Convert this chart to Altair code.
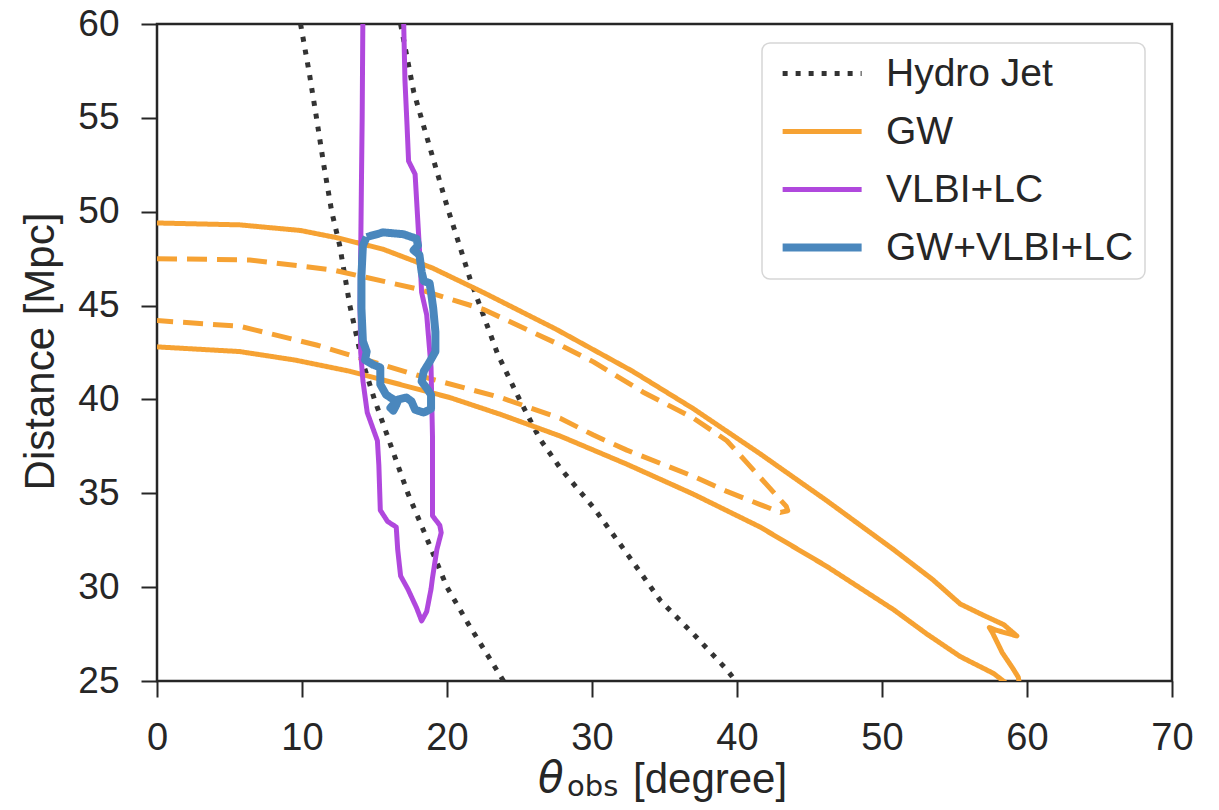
import altair as alt
import pandas as pd

# ---------------- data ----------------
series_names = ["Hydro Jet", "GW", "VLBI+LC", "GW+VLBI+LC"]
series_colors = ["#333333", "#F6A233", "#B048DD", "#4A87BD"]
series_dash = [[5, 8], [1, 0], [1, 0], [1, 0]]
series_width = [5, 5, 5, 8]

x_ticks = [0, 10, 20, 30, 40, 50, 60, 70]
y_ticks = [25, 30, 35, 40, 45, 50, 55, 60]
x_title_parts = ["θ", "obs", "[degree]"]
y_title = "Distance [Mpc]"

# Hydro Jet dotted curves
hydro_left_x = [9.9, 10.5, 11.0, 11.5, 12.05, 12.6, 13.3, 14.1, 15.0, 16.1, 17.3, 18.5, 20.0, 21.5, 23.9]
hydro_left_y = [60.0, 57.4, 55.0, 52.5, 50.0, 48.2, 45.0, 42.2, 40.0, 37.6, 35.0, 32.8, 30.0, 28.0, 25.0]
hydro_right_x = [16.8, 17.7, 18.6, 20.0, 21.6, 23.5, 25.0, 26.4, 27.8, 30.1, 32.4, 34.7, 37.0, 39.3, 39.9]
hydro_right_y = [60.0, 56.4, 54.0, 50.3, 46.4, 42.4, 40.0, 37.9, 36.35, 34.24, 31.8, 29.3, 27.5, 25.6, 25.0]

# GW outer (solid) contour: upper branch with the zig-zag tail, and lower branch
gw_outer_up_x = [0.0, 5.7, 9.9, 12.5, 15.6, 19.0, 22.5, 27.5, 32.8, 37.0, 41.6, 46.2, 50.8, 53.5,
                 55.4, 57.0, 58.4, 59.3,
                 57.9, 57.4, 57.6, 58.3, 59.0, 59.4, 59.5]
gw_outer_up_y = [49.4, 49.3, 49.0, 48.6, 48.0, 47.0, 45.7, 43.75, 41.5, 39.5, 37.1, 34.6, 32.0, 30.4,
                 29.1, 28.5, 28.0, 27.4,
                 27.7, 27.85, 27.6, 26.5, 25.7, 25.2, 24.7]
gw_outer_lo_x = [0.0, 5.7, 9.5, 13.3, 20.2, 23.7, 27.8, 32.4, 37.0, 41.6, 46.2, 50.8, 53.1, 55.4,
                 57.7, 58.7]
gw_outer_lo_y = [42.8, 42.55, 42.1, 41.5, 40.1, 39.2, 38.05, 36.55, 34.95, 33.2, 31.1, 28.8, 27.5, 26.3,
                 25.4, 24.8]

# GW inner (dashed) contour
gw_inner_x = [0.0, 6.4, 12.1, 17.9, 22.5, 27.8, 30.1, 33.5, 37.0, 39.3, 40.6, 42.0, 43.4, 43.5,
              43.0, 41.6, 39.3, 37.0, 34.7, 32.4, 30.1, 27.8, 23.7, 17.9, 11.0, 5.7, 0.0]
gw_inner_y = [47.5, 47.43, 46.9, 45.9, 44.8, 42.9, 42.0, 40.4, 39.0, 37.8, 36.7, 35.5, 34.3, 34.07,
              33.98, 34.4, 35.1, 35.9, 36.6, 37.3, 38.1, 39.0, 40.1, 41.3, 42.9, 43.9, 44.2]

# VLBI+LC contour (right side downwards, then left side upwards)
vlbi_x = [17.0, 17.1, 17.25, 17.35, 17.8, 17.95, 18.1, 18.25, 18.6, 18.9, 19.0, 19.0, 19.5, 19.6,
          19.3, 19.0, 18.9, 18.6, 18.25,
          17.9, 17.3, 16.8, 16.6, 16.5, 15.9, 15.4, 15.3, 15.2, 14.5, 14.2, 14.05, 14.0, 14.05,
          14.1, 14.15, 14.2]
vlbi_y = [60.5, 57.0, 54.5, 52.7, 52.0, 50.0, 48.0, 45.7, 44.5, 41.7, 38.0, 33.8, 33.3, 32.9,
          32.0, 30.5, 29.9, 28.7, 28.2,
          28.9, 29.9, 30.6, 32.0, 33.2, 33.5, 34.1, 36.5, 37.8, 39.3, 41.0, 42.5, 45.0, 48.0,
          51.6, 55.0, 60.5]

# GW+VLBI+LC contour (closed)
comb_x = [14.46, 15.6, 17.0, 17.9, 18.0, 17.7, 18.1, 18.25, 18.4, 18.8, 18.9, 19.05, 19.2, 19.2,
          18.8, 18.4, 18.25, 18.6, 18.9, 18.9, 18.4, 17.8, 17.55, 17.2, 16.65, 16.5, 16.3, 16.1,
          16.5, 15.8, 15.4, 15.4, 14.9, 14.35, 14.46, 14.2, 14.1, 14.1, 14.2, 14.46]
comb_y = [48.65, 48.9, 48.8, 48.56, 48.2, 47.95, 47.7, 46.8, 46.3, 46.2, 45.7, 44.85, 43.6, 42.55,
          42.0, 41.5, 40.96, 40.6, 40.25, 39.5, 39.3, 39.45, 39.9, 40.1, 40.0, 39.7, 39.4, 39.55,
          39.9, 40.25, 40.8, 41.7, 41.85, 42.1, 42.55, 43.1, 44.85, 46.6, 48.2, 48.65]

# ---------------- table ----------------
rows = []


def add(series, part, xs, ys):
    for i, (xv, yv) in enumerate(zip(xs, ys)):
        rows.append({"series": series, "part": part, "order": i, "x": xv, "y": yv})


add("Hydro Jet", "hl", hydro_left_x, hydro_left_y)
add("Hydro Jet", "hr", hydro_right_x, hydro_right_y)
add("GW", "gu", gw_outer_up_x, gw_outer_up_y)
add("GW", "gl", gw_outer_lo_x, gw_outer_lo_y)
add("GW", "gi", gw_inner_x, gw_inner_y)
add("VLBI+LC", "v", vlbi_x, vlbi_y)
add("GW+VLBI+LC", "c", comb_x, comb_y)
df = pd.DataFrame(rows)

INK = "#262626"
FONT = "Liberation Sans"

x_enc = alt.X(
    "x:Q",
    scale=alt.Scale(domain=[0, 70], nice=False, zero=False),
    axis=alt.Axis(values=x_ticks, title=None, labelPadding=22, labelFlush=False),
)
y_enc = alt.Y(
    "y:Q",
    scale=alt.Scale(domain=[25, 60], nice=False, zero=False),
    axis=alt.Axis(
        values=y_ticks, title=y_title, labelPadding=22, labelFlush=False, labelFontSize=37,
        titleX=-104, titleY=327, titleAngle=270, titleBaseline="alphabetic", titleAlign="center",
        titleFontSize=42, titleFont=FONT, titleFontWeight="normal", titleColor=INK,
    ),
)

color_enc = alt.Color(
    "series:N",
    scale=alt.Scale(domain=series_names, range=series_colors),
    legend=alt.Legend(title=None, orient="none", legendX=605, legendY=19),
)
dash_enc = alt.StrokeDash(
    "series:N", scale=alt.Scale(domain=series_names, range=series_dash), legend=alt.Legend(title=None)
)
width_enc = alt.StrokeWidth(
    "series:N", scale=alt.Scale(type="ordinal", domain=series_names, range=series_width),
    legend=alt.Legend(title=None)
)


def series_layer(parts):
    return (
        alt.Chart(df)
        .transform_filter(alt.FieldOneOfPredicate(field="part", oneOf=parts))
        .mark_line(clip=True, strokeCap="butt", strokeJoin="round")
        .encode(x=x_enc, y=y_enc, color=color_enc, strokeDash=dash_enc, strokeWidth=width_enc,
                detail="part:N", order="order:Q")
    )


hydro = series_layer(["hl", "hr"])
gw_outer = series_layer(["gu", "gl"])
gw_inner = (
    alt.Chart(df)
    .transform_filter(alt.datum.part == "gi")
    .mark_line(clip=True, strokeCap="butt", strokeJoin="round")
    .encode(x=x_enc, y=y_enc, order="order:Q",
            color=alt.value(series_colors[1]), strokeDash=alt.value([20, 10]), strokeWidth=alt.value(5))
)
vlbi = series_layer(["v"])
comb = series_layer(["c"])


def title_text(txt, px, py, size, font, style="normal"):
    return (
        alt.Chart(pd.DataFrame({"t": [txt]}))
        .mark_text(font=font, fontSize=size, fontStyle=style, align="left", baseline="alphabetic", color=INK)
        .encode(x=alt.value(px), y=alt.value(py), text="t:N")
    )


t_theta = title_text(x_title_parts[0], 381, 768, 42, "DejaVu Sans", "italic")
t_obs = title_text(x_title_parts[1], 410, 772, 29, "DejaVu Sans")
t_deg = title_text(x_title_parts[2], 476, 769, 42, FONT)

chart = (
    alt.layer(hydro, gw_outer, gw_inner, vlbi, comb, t_theta, t_obs, t_deg)
    .properties(
        width=1015, height=657,
        autosize=alt.AutoSizeParams(type="none"),
        padding={"left": 149, "top": 16, "right": 39, "bottom": 121},
    )
    .configure_view(stroke=INK, strokeWidth=2.5)
    .configure_axis(
        grid=False, domain=False, tickSize=16, tickWidth=2, tickColor=INK,
        labelFont=FONT, labelFontSize=38, labelColor=INK,
    )
    .configure_legend(
        padding=11, strokeColor="#d6d6d6", strokeWidth=1.5, fillColor="white", cornerRadius=8,
        symbolType="M-1,0H7", symbolSize=390, labelFont=FONT, labelFontSize=39, labelColor=INK,
        labelOffset=74, rowPadding=18, labelLimit=400,
    )
)

chart.save("out.html", embed_options={"renderer": "svg", "actions": False})
